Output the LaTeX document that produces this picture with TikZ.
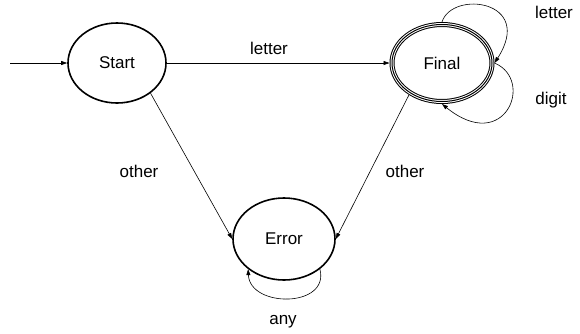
\documentclass[tikz,border=0pt]{standalone}
\usepackage{fontspec}
\setmainfont{Liberation Sans}
\usetikzlibrary{shapes.geometric,arrows.meta}
\tikzset{
  state/.style={ellipse, draw, line width=1.6pt, inner sep=0pt, minimum width=98pt, minimum height=80pt, font=\fontsize{17}{20}\selectfont},
  finalstate/.style={ellipse, draw, line width=5pt, inner sep=0pt, minimum width=100pt, minimum height=77pt, font=\fontsize{17}{20}\selectfont,
     postaction={draw=white, line width=3pt}, postaction={draw=black, line width=1pt}},
  lbl/.style={font=\fontsize{17}{20}\selectfont, inner sep=0pt},
  arr/.style={draw, line width=0.6pt, -{Triangle[length=6pt,width=4pt]}}
}
\begin{document}
\begin{tikzpicture}[x=1pt,y=-1pt]
\useasboundingbox (0,0) rectangle (580,333);
\node[state] (Start) at (117,63) {Start};
\node[finalstate] (Final) at (442,63) {Final};
\node[state, minimum width=102pt, minimum height=82pt] (Error) at (284,239) {Error};
\coordinate (in) at (10,63);
\draw[arr] (in) -- (Start);
\draw[arr] (Start) -- (Final);
\node[lbl] (l1) at (269,48) {letter};
\draw[arr] (Start.-42) -- (Error.west);
\node[lbl] (l2) at (139,171) {other};
\draw[arr] (Final.224) -- (Error.east);
\node[lbl] (l3) at (405,171) {other};
\draw[arr] (Final.north) .. controls (452,-10) and (535,0) .. (Final.east);
\node[lbl] (l4) at (554,12) {letter};
\draw[arr] (Final.east) .. controls (535,80) and (505,155) .. (Final.south);
\node[lbl] (l5) at (551,100) {digit};
\draw[arr] (Error.-40) .. controls (330,308) and (250,308) .. (Error.-140);
\node[lbl] (l6) at (283,322) {any};
\end{tikzpicture}
\end{document}
